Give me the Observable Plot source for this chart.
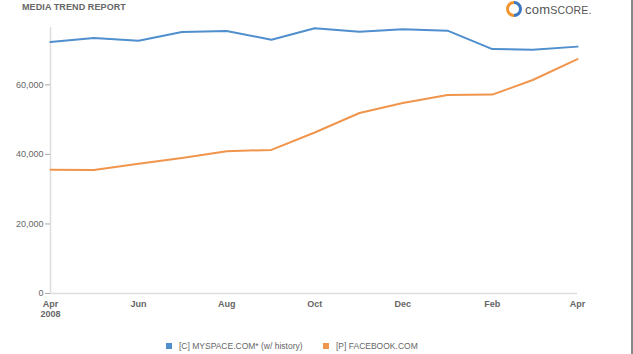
<!DOCTYPE html>
<html><head><meta charset="utf-8">
<script src="https://cdn.jsdelivr.net/npm/d3@7"></script>
<script src="https://cdn.jsdelivr.net/npm/@observablehq/plot@0.6"></script>
<style>
body{margin:0;background:#fff;font-family:"Liberation Sans",Arial,sans-serif;}
#wrap{position:relative;width:633px;height:354px;overflow:hidden;border-right:2px solid #888;box-sizing:border-box;}
#title{position:absolute;left:22px;top:2px;font-size:9px;font-weight:bold;color:#666;letter-spacing:0.1px;}
#logo{position:absolute;left:506px;top:1px;display:flex;align-items:center;}
#logo .t{font-size:13px;color:#555;margin-left:3px;letter-spacing:0.2px}
#logo .t small{font-size:10.5px;}
#chart{position:absolute;left:0;top:0;}
#legend{position:absolute;top:341px;left:0;width:633px;font-size:8.5px;color:#666;}
.item{position:absolute;display:flex;align-items:center;}
.sw{width:6px;height:6px;margin-right:7px;}
</style></head>
<body>
<div id="wrap">
<div id="chart"></div>
<div id="title">MEDIA TREND REPORT</div>
<div id="logo"><svg width="16" height="16" viewBox="0 0 16 16">
<path d="M8 1.5 A6.5 6.5 0 0 0 8 14.5" fill="none" stroke="#f0952f" stroke-width="3"/>
<path d="M8 1.5 A6.5 6.5 0 0 1 8 14.5" fill="none" stroke="#3a78c0" stroke-width="3"/>
</svg><span class="t">com<small>SCORE.</small></span></div>
<div id="legend"></div>
</div>
<script>
const months = ["2008-04","2008-05","2008-06","2008-07","2008-08","2008-09","2008-10","2008-11","2008-12","2009-01","2009-02","2009-03","2009-04"];
const myspace = [72300,73500,72700,75200,75500,73000,76300,75300,76000,75600,70300,70100,71000];
const facebook = [35600,35500,37300,39000,40900,41300,46300,51900,54800,57100,57200,61400,67400];
const seriesNames = ["[C] MYSPACE.COM* (w/ history)","[P] FACEBOOK.COM"];
const seriesColors = ["#4f8fcd","#f0954c"];
const yTicks = [0,20000,40000,60000];
const xTickMonths = ["2008-04","2008-06","2008-08","2008-10","2008-12","2009-02","2009-04"];
const xTickLabels = ["Apr\n2008","Jun","Aug","Oct","Dec","Feb","Apr"];

const parse = d3.utcParse("%Y-%m");
const rows = [];
months.forEach((m,i)=>{
  rows.push({date:parse(m), value:myspace[i], series:seriesNames[0]});
  rows.push({date:parse(m), value:facebook[i], series:seriesNames[1]});
});
const tickDates = xTickMonths.map(parse);
const labelFor = d => xTickLabels[tickDates.findIndex(t=>+t===+d)];

const chart = Plot.plot({
  width:631, height:330,
  marginLeft:50, marginRight:54, marginTop:27, marginBottom:37,
  style:{fontFamily:"Liberation Sans, Arial, sans-serif", fontSize:"9px", color:"#666", background:"transparent"},
  x:{type:"utc", domain:[parse(months[0]), parse(months[months.length-1])], label:null},
  y:{domain:[0,76500], label:null},
  color:{domain:seriesNames, range:seriesColors},
  marks:[
    Plot.ruleY([0],{stroke:"#ddd", strokeWidth:1.5}),
    Plot.ruleX([parse(months[0])],{stroke:"#ddd", strokeWidth:1.5, y1:0, y2:76500}),
    Plot.axisY({ticks:yTicks, tickFormat:d3.format(","), tickSize:5, tickPadding:2, stroke:"#aaa", fill:"#666", label:null}),
    Plot.axisX({ticks:tickDates, tickFormat:labelFor, tickSize:0, tickPadding:6, fill:"#666", fontWeight:"bold", lineHeight:1.15, label:null}),
    Plot.line(rows,{x:"date", y:"value", stroke:"series", strokeWidth:2})
  ]
});
document.getElementById("chart").appendChild(chart);

const legend = document.getElementById("legend");
const lx = [166,323];
seriesNames.forEach((n,i)=>{
  const d=document.createElement("div"); d.className="item"; d.style.left=lx[i]+"px";
  d.innerHTML=`<span class="sw" style="background:${seriesColors[i]}"></span><span>${n}</span>`;
  legend.appendChild(d);
});
</script>
</body></html>
